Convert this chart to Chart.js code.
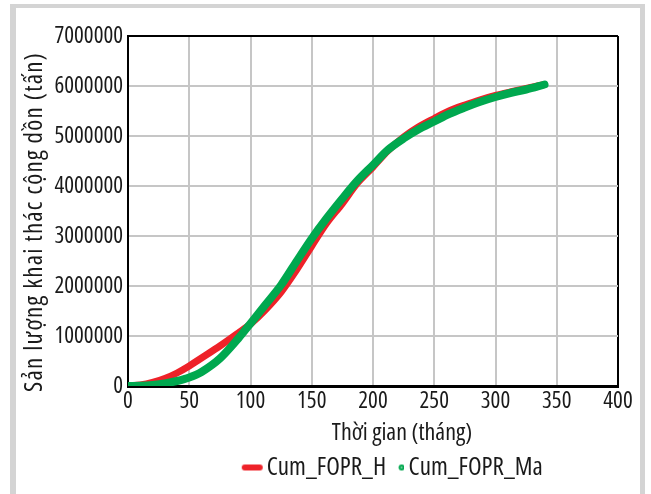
<!DOCTYPE html>
<html>
<head>
<meta charset="utf-8">
<script src="https://cdn.jsdelivr.net/npm/chart.js@4.4.0/dist/chart.umd.min.js"></script>
<style>
  html, body { margin: 0; padding: 0; background: #fff; }
  #wrap { position: relative; width: 651px; height: 494px; overflow: hidden; }
  #frame {
    position: absolute; left: 10px; top: 4px; width: 624px; height: 487px;
    border-left: 6px solid #d4d4d4; border-top: 4px solid #d4d4d4;
    border-right: 5px solid #d4d4d4; border-bottom: 3px solid #d4d4d4;
  }
  #chart { position: absolute; left: 0; top: 0; }
</style>
</head>
<body>
<div id="wrap">
  <div id="frame"></div>
  <canvas id="chart" width="651" height="494"></canvas>
</div>
<script>
// Thời gian (tháng)
const months = [0, 10, 20, 30, 40, 50, 60, 75, 90, 100, 112, 125, 137, 150, 162, 175, 187, 200, 212, 225, 237, 250, 262, 275, 287, 300, 312, 325, 340];
// Cum_FOPR_H (tấn)
const cumH = [0, 20000, 70000, 150000, 260000, 400000, 560000, 800000, 1060000, 1240000, 1520000, 1880000, 2300000, 2800000, 3250000, 3650000, 4050000, 4380000, 4700000, 4980000, 5180000, 5350000, 5500000, 5620000, 5720000, 5810000, 5880000, 5950000, 6030000];
// Cum_FOPR_Ma (tấn)
const cumMa = [0, 5000, 20000, 50000, 100000, 170000, 280000, 550000, 950000, 1250000, 1620000, 2020000, 2470000, 2950000, 3350000, 3750000, 4100000, 4420000, 4720000, 4950000, 5130000, 5290000, 5440000, 5570000, 5680000, 5780000, 5860000, 5930000, 6030000];

const xTicks = { min: 0, max: 400, step: 50 };
const yTicks = { min: 0, max: 7000000, step: 1000000 };

const xTitle = 'Thời gian (tháng)';
const yTitle = 'Sản lượng khai thác cộng dồn (tấn)';

// Open Sans ở độ rộng hẹp, gần giống chữ của bản gốc
const FAMILY = "'Open Sans', sans-serif";
const TICK_FONT = { family: FAMILY, size: 23, weight: 'condensed' };
const LEGEND_FONT = { family: FAMILY, size: 25, weight: 'condensed' };
const TEXT = '#1a1a1a';
const RED = '#ee2229';
const GREEN = '#00a84f';

// icons for the legend
function redIcon() {
    const c = document.createElement('canvas');
    c.width = 30; c.height = 10;
    const g = c.getContext('2d');
    g.strokeStyle = RED; g.lineWidth = 6; g.lineCap = 'round';
    g.beginPath(); g.moveTo(6, 5); g.lineTo(21, 5); g.stroke();
    return c;
}
function greenIcon() {
    const c = document.createElement('canvas');
    c.width = 17; c.height = 10;
    const g = c.getContext('2d');
    g.fillStyle = GREEN;
    g.beginPath(); g.arc(14.5, 5, 3, 0, Math.PI * 2); g.fill();
    g.fillStyle = '#7fd3a5';
    g.beginPath(); g.arc(14.5, 5, 1.1, 0, Math.PI * 2); g.fill();
    return c;
}

// tiêu đề hai trục, đặt lệch như bản gốc
const titlesPlugin = {
    id: 'axisTitles',
    afterLayout(chart) {
        // chú thích nằm lệch phải so với vùng vẽ
        chart.legend.left += 25;
        chart.legend.right += 25;
    },
    afterDraw(chart) {
        const a = chart.chartArea;
        const ctx = chart.ctx;
        ctx.save();
        ctx.fillStyle = TEXT;
        ctx.textAlign = 'center';
        ctx.textBaseline = 'middle';
        ctx.font = 'condensed 24px ' + FAMILY;
        ctx.fillText(xTitle, (a.left + a.right) / 2 + 29, a.bottom + 47);
        ctx.translate(35, (a.top + a.bottom) / 2 + 11);
        ctx.rotate(-Math.PI / 2);
        ctx.font = 'condensed 25px ' + FAMILY;
        ctx.letterSpacing = '1.2px';
        ctx.fillText(yTitle, 0, 0);
        ctx.restore();
    }
};

function edgeColor(edge) {
    return ctx => (ctx.tick && ctx.tick.value === edge) ? '#000' : '#c6c6c6';
}

const points = (xs, ys) => xs.map((x, i) => ({ x: x, y: ys[i] }));

const chart = new Chart(document.getElementById('chart'), {
    type: 'line',
    data: {
        datasets: [{
            label: 'Cum_FOPR_H',
            data: points(months, cumH),
            borderColor: RED,
            backgroundColor: RED,
            borderWidth: 7,
            pointRadius: 0,
            tension: 0.3,
            borderCapStyle: 'round',
            pointStyle: redIcon(),
            order: 1
        }, {
            label: 'Cum_FOPR_Ma',
            data: points(months, cumMa),
            borderColor: GREEN,
            backgroundColor: GREEN,
            borderWidth: 8,
            pointRadius: 0,
            tension: 0.3,
            borderCapStyle: 'round',
            pointStyle: greenIcon(),
            order: 0
        }]
    },
    options: {
        responsive: false,
        animation: false,
        layout: { padding: { left: 20, right: 33, top: 36, bottom: 4 } },
        plugins: {
            tooltip: { enabled: false },
            legend: {
                position: 'bottom',
                fullSize: false,
                labels: {
                    usePointStyle: true,
                    pointStyleWidth: 1,
                    padding: 9,
                    color: TEXT,
                    font: LEGEND_FONT,
                    sort: (a, b) => a.datasetIndex - b.datasetIndex
                }
            }
        },
        scales: {
            x: {
                type: 'linear',
                min: xTicks.min, max: xTicks.max,
                afterFit: s => { s.height = 60; },
                ticks: { stepSize: xTicks.step, padding: 2, color: TEXT, font: TICK_FONT },
                grid: { color: edgeColor(xTicks.max), lineWidth: 2, drawTicks: false },
                border: { color: '#000', width: 3 }
            },
            y: {
                min: yTicks.min, max: yTicks.max,
                afterFit: s => { s.width = 108; },
                ticks: {
                    stepSize: yTicks.step, padding: 5, color: TEXT, font: TICK_FONT,
                    callback: v => String(v)
                },
                grid: { color: edgeColor(yTicks.max), lineWidth: 2, drawTicks: false },
                border: { color: '#000', width: 2 }
            }
        }
    },
    plugins: [titlesPlugin]
});
</script>
</body>
</html>
